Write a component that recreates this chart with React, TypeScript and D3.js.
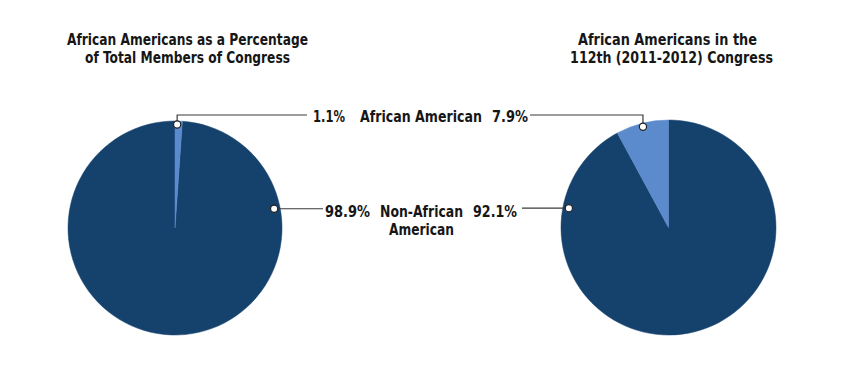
import React, { useLayoutEffect, useRef, useState } from "react";
import * as d3 from "d3";

const categories = ["African American", "Non-African American"];
const totalCongressPct = [1.1, 98.9];
const congress112Pct = [7.9, 92.1];
const leftTitle = ["African Americans as a Percentage", "of Total Members of Congress"];
const rightTitle = ["African Americans in the", "112th (2011-2012) Congress"];
const labelLines = [["African American"], ["Non-African", "American"]];

const W = 850;
const H = 368;
const DARK = "#15416d";
const LIGHT = "#5b8bcc";
const LINE = "#3a3a3a";
const FONT = "'DejaVu Sans Condensed', 'DejaVu Sans', sans-serif";

const fmt = (v: number) => `${v.toFixed(1)}%`;

function FitText({
  x,
  y,
  width,
  anchor = "start",
  size,
  children,
}: {
  x: number;
  y: number;
  width: number;
  anchor?: "start" | "middle" | "end";
  size: number;
  children: string;
}) {
  const ref = useRef<SVGTextElement>(null);
  const [s, setS] = useState(0.75);
  useLayoutEffect(() => {
    if (ref.current) {
      const n = ref.current.getComputedTextLength();
      if (n > 0) setS(width / n);
    }
  }, [width, children, size]);
  return (
    <text
      ref={ref}
      transform={`translate(${x},${y}) scale(${s},1)`}
      textAnchor={anchor}
      fontFamily={FONT}
      fontStretch="condensed"
      fontSize={size}
      fontWeight={700}
      fill="#161616"
    >
      {children}
    </text>
  );
}

function Pie({ values, cx, cy, r, clockwiseFirst }: { values: number[]; cx: number; cy: number; r: number; clockwiseFirst: boolean }) {
  const sum = d3.sum(values);
  const offset = clockwiseFirst ? 0 : (-2 * Math.PI * values[0]) / sum;
  const pie = d3
    .pie<number>()
    .sort(null)
    .value((d) => d)
    .startAngle(offset)
    .endAngle(offset + 2 * Math.PI);
  const arcs = pie(values);
  const arc = d3.arc<d3.PieArcDatum<number>>().innerRadius(0).outerRadius(r);
  const colors = [LIGHT, DARK];
  return (
    <g transform={`translate(${cx},${cy})`}>
      {arcs
        .slice()
        .reverse()
        .map((a, i) => (
          <path key={i} d={arc(a) || ""} fill={colors[a.index]} stroke={colors[a.index]} strokeWidth={0.5} />
        ))}
    </g>
  );
}

export default function App() {
  const L = { cx: 175, cy: 228, r: 107 };
  const R = { cx: 668.5, cy: 227.5, r: 107.5 };

  const polar = (c: { cx: number; cy: number }, rad: number, ang: number) => [
    c.cx + rad * Math.sin(ang),
    c.cy - rad * Math.cos(ang),
  ];
  const sumL = d3.sum(totalCongressPct);
  const sumR = d3.sum(congress112Pct);
  const aL = ((Math.PI * totalCongressPct[0]) / sumL) * 0.6;
  const aR = (-Math.PI * congress112Pct[0]) / sumR;
  const dotL1 = polar(L, L.r - 3.5, aL);
  const dotR1 = polar(R, R.r - 3.5, aR);
  const side = (79 * Math.PI) / 180;
  const dotL2 = polar(L, L.r - 6, side);
  const dotR2 = polar(R, R.r - 6, -side);

  const topY = 115;
  const LS = 16.5;

  return (
    <svg width={W} height={H} style={{ position: "absolute", left: 0, top: 0, background: "#fff" }}>
      {/* titles */}
      <FitText x={187.5} y={44.5} width={241} anchor="middle" size={16.5}>{leftTitle[0]}</FitText>
      <FitText x={187.5} y={63} width={205} anchor="middle" size={16.5}>{leftTitle[1]}</FitText>
      <FitText x={667.5} y={44.5} width={179} anchor="middle" size={16.5}>{rightTitle[0]}</FitText>
      <FitText x={671.5} y={63} width={203} anchor="middle" size={16.5}>{rightTitle[1]}</FitText>

      <Pie values={totalCongressPct} cx={L.cx} cy={L.cy} r={L.r} clockwiseFirst={true} />
      <Pie values={congress112Pct} cx={R.cx} cy={R.cy} r={R.r} clockwiseFirst={false} />

      {/* leader lines */}
      <polyline points={`${dotL1[0]},${dotL1[1]} ${dotL1[0]},${topY} 307,${topY}`} fill="none" stroke={LINE} strokeWidth={1.2} />
      <polyline points={`${dotR1[0]},${dotR1[1]} ${dotR1[0]},${topY} 530,${topY}`} fill="none" stroke={LINE} strokeWidth={1.2} />
      <line x1={dotL2[0]} y1={dotL2[1]} x2={323} y2={dotL2[1]} stroke={LINE} strokeWidth={1.2} />
      <line x1={dotR2[0]} y1={dotR2[1]} x2={522} y2={dotR2[1]} stroke={LINE} strokeWidth={1.2} />
      {[dotL1, dotR1, dotL2, dotR2].map((p, i) => (
        <circle key={i} cx={p[0]} cy={p[1]} r={3.6} fill="#fff" stroke="#222" strokeWidth={1.2} />
      ))}

      {/* labels: top row */}
      <FitText x={313} y={122} width={32} size={LS}>{fmt(totalCongressPct[0])}</FitText>
      <FitText x={421} y={122} width={122} anchor="middle" size={LS}>{labelLines[0][0]}</FitText>
      <FitText x={492} y={122} width={36} size={LS}>{fmt(congress112Pct[0])}</FitText>

      {/* labels: middle row */}
      <FitText x={325} y={216.5} width={45} size={LS}>{fmt(totalCongressPct[1])}</FitText>
      <FitText x={421.5} y={216.5} width={83} anchor="middle" size={LS}>{labelLines[1][0]}</FitText>
      <FitText x={421.5} y={235} width={65} anchor="middle" size={LS}>{labelLines[1][1]}</FitText>
      <FitText x={473} y={216.5} width={44} size={LS}>{fmt(congress112Pct[1])}</FitText>
    </svg>
  );
}
